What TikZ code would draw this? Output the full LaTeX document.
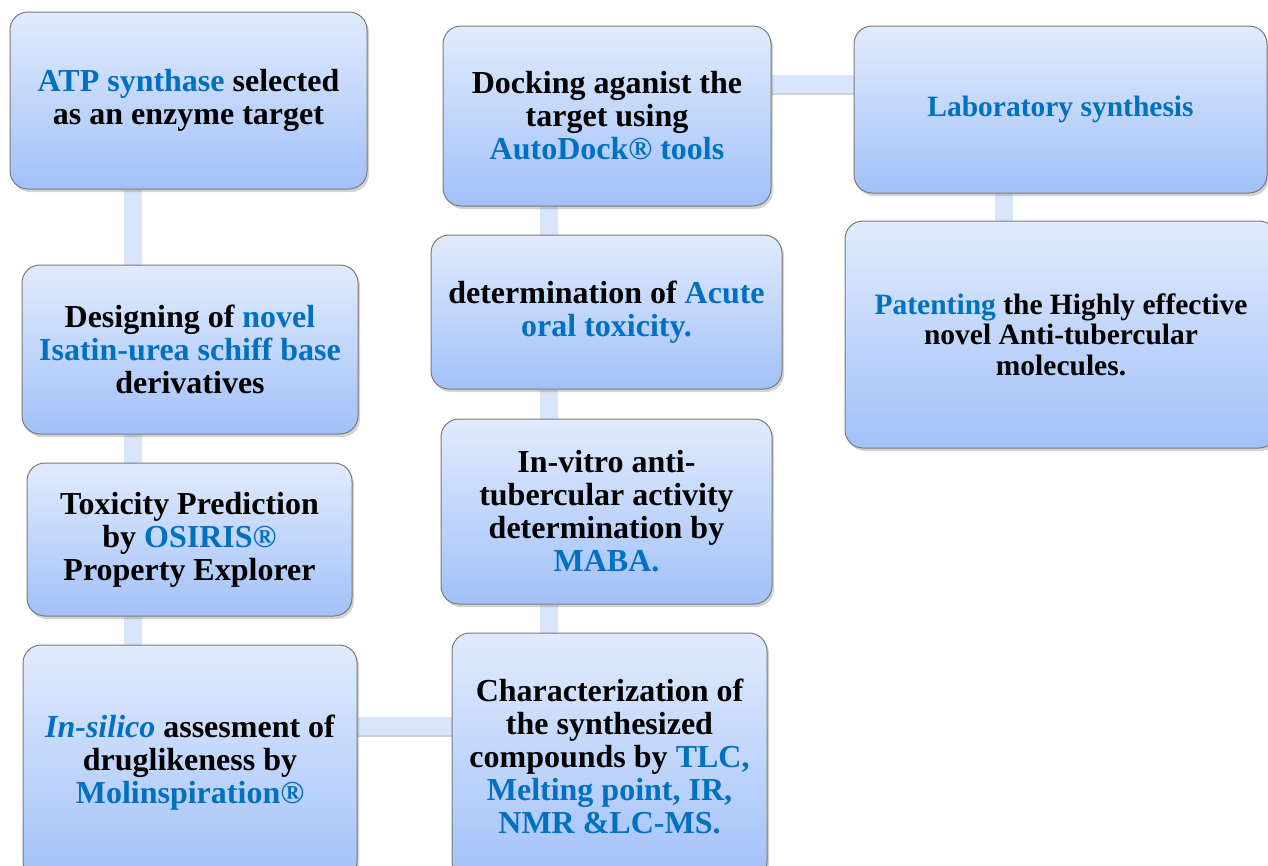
\documentclass[tikz,border=0pt]{standalone}
\usepackage{fontspec}
\setmainfont{Liberation Serif}
\usepackage{xcolor}
\usetikzlibrary{shadows,backgrounds}
\definecolor{BoxTop}{HTML}{E1EBFD}
\definecolor{BoxBottom}{HTML}{A2C1F8}
\definecolor{BoxEdge}{HTML}{7A7A7A}
\definecolor{LinkFill}{HTML}{D9E5FA}
\definecolor{Accent}{HTML}{0070C0}
\newcommand{\stepfont}{\fontsize{32}{33}\selectfont\bfseries}
\newcommand{\smallstepfont}{\fontsize{29.5}{30.5}\selectfont\bfseries}
\newcommand{\hl}[1]{\textcolor{Accent}{#1}}
\tikzset{
  stepbox/.style={draw=BoxEdge, line width=1pt, rounded corners=18pt,
    top color=BoxTop, bottom color=BoxBottom, inner sep=0pt,
    drop shadow={opacity=0.35, shadow xshift=2pt, shadow yshift=-3pt},
    align=center, font=\stepfont},
  link/.style={draw=LinkFill, line width=18pt,
    preaction={draw=black!18, line width=18pt, transform canvas={yshift=-2pt}}},
}

\begin{document}
\begin{tikzpicture}[x=1pt,y=-1pt]
  \useasboundingbox (0,0) rectangle (1268,865);

  %% left column
  \node[stepbox, minimum width=357, minimum height=177] (atp) at (188.5,100.5)
    {\hl{ATP synthase} selected\\ as an enzyme target};
  \node[stepbox, minimum width=336, minimum height=169] (design) at (190,349.5)
    {Designing of \hl{novel}\\ \hl{Isatin-urea schiff base}\\ derivatives};
  \node[stepbox, minimum width=325, minimum height=153] (toxic) at (189.5,539.5)
    {Toxicity Prediction\\ by \hl{OSIRIS®}\\ Property Explorer};
  \node[stepbox, minimum width=334, minimum height=235] (silico) at (190,762.5)
    {\hl{\textit{In-silico}} assesment of\\ druglikeness by\\ \hl{Molinspiration®}};

  %% middle column
  \node[stepbox, minimum width=328, minimum height=180] (dock) at (607,116)
    {Docking aganist the\\ target using\\ \hl{AutoDock® tools}};
  \node[stepbox, minimum width=351, minimum height=154] (acute) at (606.5,312)
    {determination of \hl{Acute}\\ \hl{oral toxicity.}};
  \node[stepbox, minimum width=331, minimum height=185] (vitro) at (606.5,511.5)
    {In-vitro anti-\\ tubercular activity\\ determination by\\ \hl{MABA.}};
  \node[stepbox, minimum width=315, minimum height=247] (charact) at (609.5,756.5)
    {Characterization of\\ the synthesized\\ compounds by \hl{TLC,}\\ \hl{Melting point, IR,}\\ \hl{NMR \&LC-MS.}};

  %% right column
  \node[stepbox, font=\smallstepfont, minimum width=413, minimum height=167] (lab) at (1060.5,109.5)
    {\hl{Laboratory synthesis}};
  \node[stepbox, font=\smallstepfont, minimum width=432, minimum height=227] (patent) at (1061,334.5)
    {\hl{Patenting} the Highly effective\\ novel Anti-tubercular\\ molecules.};

  %% connectors
  \coordinate (colL) at (133,0);
  \coordinate (colM) at (548.5,0);
  \coordinate (colR) at (1003.5,0);
  \coordinate (rowT) at (0,84);
  \coordinate (rowB) at (0,726);
  \begin{scope}[on background layer]
    \draw[link] (atp.south -| colL) -- (design.north -| colL);
    \draw[link] (design.south -| colL) -- (toxic.north -| colL);
    \draw[link] (toxic.south -| colL) -- (silico.north -| colL);
    \draw[link] (silico.east |- rowB) -- (charact.west |- rowB);
    \draw[link] (charact.north -| colM) -- (vitro.south -| colM);
    \draw[link] (vitro.north -| colM) -- (acute.south -| colM);
    \draw[link] (acute.north -| colM) -- (dock.south -| colM);
    \draw[link] (dock.east |- rowT) -- (lab.west |- rowT);
    \draw[link] (lab.south -| colR) -- (patent.north -| colR);
  \end{scope}
\end{tikzpicture}
\end{document}
